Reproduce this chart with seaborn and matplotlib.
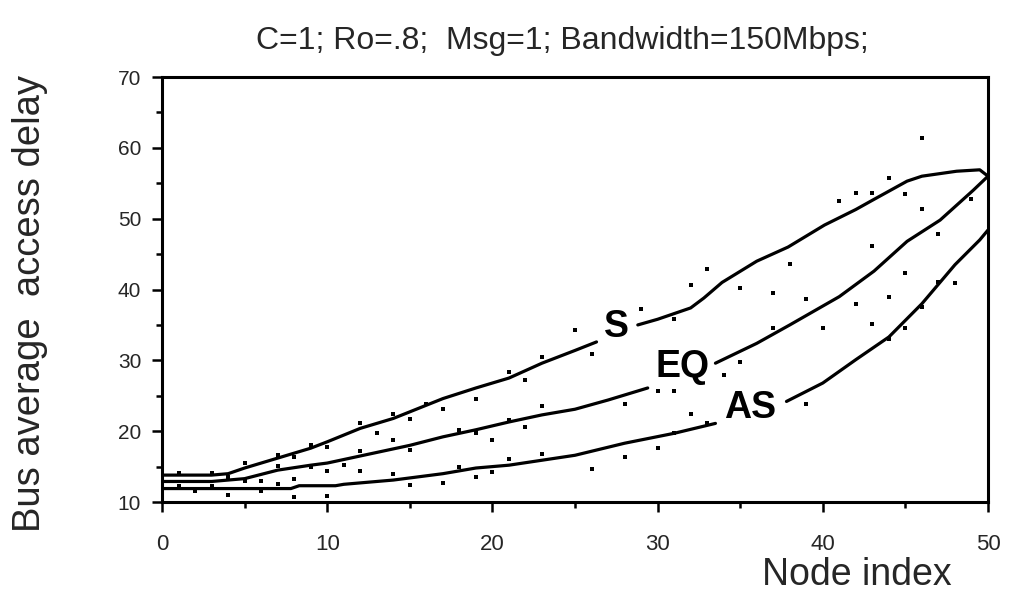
import numpy as np
import pandas as pd
import matplotlib
matplotlib.use("Agg")
import matplotlib.pyplot as plt
import seaborn as sns
from matplotlib.ticker import MultipleLocator
from matplotlib import font_manager

# ---------------- data ----------------
# analytic curves, split where the inline label interrupts them
S_x1 = [0, 3, 4, 5, 7, 9, 10, 12, 14, 17, 19, 21, 23, 25, 26.3]
S_y1 = [13.8, 13.8, 14.0, 14.8, 16.2, 17.6, 18.5, 20.4, 21.8, 24.6, 26.1, 27.5, 29.6, 31.4, 32.6]
S_x2 = [28.8, 30, 32, 32.8, 33.9, 36, 37.9, 40.1, 42, 43, 45.1, 46, 48.1, 49.5, 50]
S_y2 = [35.0, 35.8, 37.4, 38.8, 41.0, 44.0, 46.0, 49.1, 51.3, 52.6, 55.3, 56.0, 56.7, 56.9, 56.0]

EQ_x1 = [0, 3, 4, 5, 7, 9, 10, 12, 15, 17, 19, 21, 23, 25, 27, 29.4]
EQ_y1 = [12.9, 12.9, 13.1, 13.3, 14.5, 15.2, 15.5, 16.5, 18.0, 19.2, 20.2, 21.3, 22.3, 23.1, 24.4, 26.1]
EQ_x2 = [33.5, 36, 38, 41, 43.1, 45.1, 47.1, 49.1, 50]
EQ_y2 = [29.6, 32.4, 35.0, 39.0, 42.6, 46.8, 49.8, 54.0, 56.0]

AS_x1 = [0, 7.8, 8.3, 10.5, 11, 12.5, 14, 17, 19, 21, 23, 25, 28, 31, 33.5]
AS_y1 = [11.9, 11.9, 12.3, 12.3, 12.5, 12.8, 13.1, 14.0, 14.8, 15.2, 15.9, 16.6, 18.3, 19.7, 21.1]
AS_x2 = [37.8, 40, 42, 44, 46, 48, 49.5, 50]
AS_y2 = [24.2, 26.8, 30.1, 33.3, 38.0, 43.5, 47.0, 48.4]

# simulated points (scattered dots)
sim_node = [1, 1, 2, 3, 3, 4, 4, 5, 5, 6, 6, 7, 7, 7, 8, 8, 8, 9, 9, 10, 10, 10, 11, 12, 12, 12,
            13, 14, 14, 14, 15, 15, 15, 16, 17, 17, 18, 18, 19, 19, 19, 20, 20, 21, 21, 21, 22, 22,
            23, 23, 23, 25, 26, 26, 28, 28, 29, 30, 30, 31, 31, 31, 32, 32, 33, 33, 34, 35, 35,
            37, 37, 38, 39, 39, 40, 41, 42, 42, 43, 43, 43, 44, 44, 44, 45, 45, 45, 46, 46, 46,
            47, 47, 48, 49]
sim_delay = [14.05, 12.2, 11.5, 14.05, 12.2, 13.6, 11.0, 15.5, 12.9, 12.9, 11.5, 16.6, 15.1, 12.5,
             16.3, 13.2, 10.7, 18.05, 15.0, 17.7, 14.4, 10.9, 15.2, 21.1, 17.2, 14.4,
             19.8, 22.4, 18.8, 14.0, 21.7, 17.3, 12.4, 23.8, 23.2, 12.7, 20.2, 15.0, 24.6, 19.7, 13.5,
             18.7, 14.3, 28.3, 21.6, 16.1, 27.2, 20.6, 30.5, 23.5, 16.8, 34.3, 30.9, 14.6, 23.8, 16.4,
             37.2, 25.7, 17.6, 35.8, 25.7, 19.7, 40.6, 22.4, 42.9, 21.2, 27.9, 40.2, 29.7,
             39.5, 34.6, 43.6, 38.7, 23.8, 34.6, 52.5, 53.6, 37.9, 53.6, 46.1, 35.2, 55.8, 39.0, 33.0,
             53.5, 42.4, 34.5, 61.4, 51.3, 37.5, 47.9, 41.1, 40.9, 52.8]

labels = ["S", "EQ", "AS"]
label_x = [27.5, 31.5, 35.6]
label_y = [33.35, 27.7, 21.8]

title = "C=1; Ro=.8;  Msg=1; Bandwidth=150Mbps;"
xlabel = "Node index"
ylabel = "Bus average  access delay"

# ---------------- style ----------------
sns.set_style("ticks")
names = {f.name for f in font_manager.fontManager.ttflist}
base = "Liberation Sans"
narrow = "Liberation Sans Narrow" if "Liberation Sans Narrow" in names else base
plt.rcParams["font.family"] = [base, "DejaVu Sans"]

fig = plt.figure(figsize=(10.09, 5.92), dpi=100)
ax = fig.add_axes([0.1606, 0.152, 0.8186, 0.7179])

segments = [(S_x1, S_y1), (S_x2, S_y2), (EQ_x1, EQ_y1), (EQ_x2, EQ_y2), (AS_x1, AS_y1), (AS_x2, AS_y2)]
for sx, sy in segments:
    sns.lineplot(x=sx, y=sy, ax=ax, color="black", linewidth=2.3, sort=False, estimator=None)

sns.scatterplot(x=sim_node, y=sim_delay, ax=ax, color="black", marker="s", s=8, linewidth=0)

for t, lx, ly in zip(labels, label_x, label_y):
    ax.text(lx, ly, t, ha="center", va="baseline", fontsize=27, fontweight="bold", color="black")

ax.set_xlim(0, 50)
ax.set_ylim(10, 70)
ax.xaxis.set_major_locator(MultipleLocator(10))
ax.xaxis.set_minor_locator(MultipleLocator(5))
ax.yaxis.set_major_locator(MultipleLocator(10))
ax.yaxis.set_minor_locator(MultipleLocator(5))
for sp in ax.spines.values():
    sp.set_visible(True)
    sp.set_linewidth(2.2)
    sp.set_color("black")
ax.tick_params(which="major", length=7, width=1.8, direction="out", color="black")
ax.tick_params(which="minor", length=4, width=1.8, direction="out", color="black")
ax.tick_params(axis="x", pad=16, labelsize=16)
ax.tick_params(axis="y", pad=8, labelsize=15)
ax.set_xlabel("")
ax.set_ylabel("")

fig.text(0.557, 0.917, title, ha="center", va="baseline", fontsize=23, family=[narrow, "DejaVu Sans"])
fig.text(0.849, 0.0118, xlabel, ha="center", va="baseline", fontsize=27)
fig.text(0.030, 0.488, ylabel, ha="center", va="center", rotation=90, fontsize=27.5)

fig.savefig("out.png", dpi=100)
